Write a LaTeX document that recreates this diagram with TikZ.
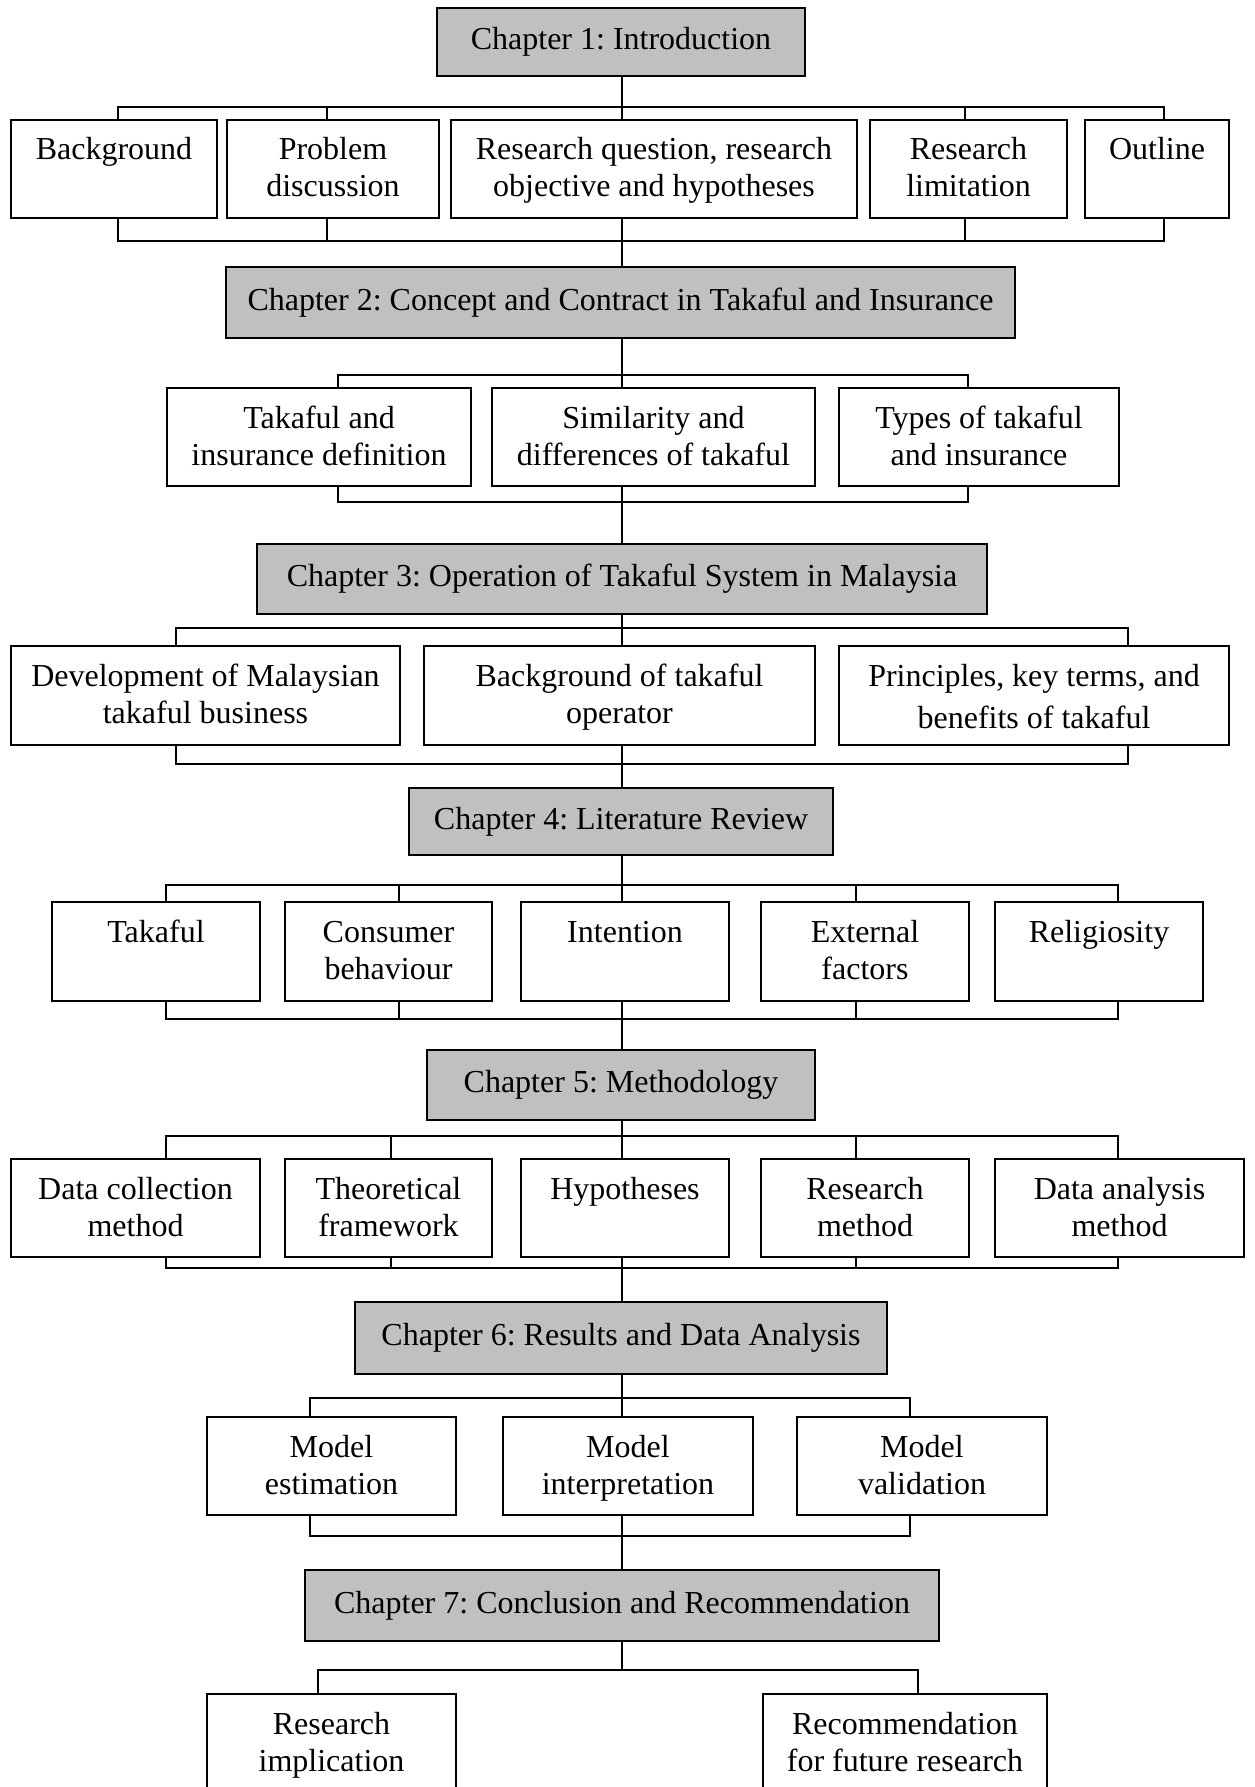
\documentclass[tikz,border=0pt]{standalone}
\usepackage{fontspec}
\setmainfont{Liberation Serif}
\frenchspacing
\definecolor{chapgray}{RGB}{192,192,192}
\newcommand{\mkbox}[6]{%
  \pgfmathsetmacro\bw{#4-#2}\pgfmathsetmacro\bh{#5-#3}%
  \node[cbx] (#1) at (#2,#3) {\parbox[b][\bh pt][t]{\bw pt}{\centering\rule{0pt}{40pt}#6}};}
\newcommand{\mkchap}[6]{%
  \pgfmathsetmacro\bw{#4-#2}\pgfmathsetmacro\bh{#5-#3}%
  \node[chap, minimum width=\bw pt, minimum height=\bh pt] (#1) at (#2,#3) {#6};}
\newcommand{\brtop}[4]{%
  \coordinate (bl) at (#2,#1); \coordinate (br) at (#3,#1);
  \draw[conn] (bl) -- (br);
  \foreach \tx/\nd in {#4}{\coordinate (kk) at (\tx,#1); \draw[conn] (kk) -- (kk |- \nd.north);}}
\newcommand{\brbot}[4]{%
  \coordinate (bl) at (#2,#1); \coordinate (br) at (#3,#1);
  \draw[conn] (bl) -- (br);
  \foreach \tx/\nd in {#4}{\coordinate (kk) at (\tx,#1); \draw[conn] (kk |- \nd.south) -- (kk);}}
\begin{document}
\begin{tikzpicture}[x=1pt,y=-1pt,
  cbx/.style={draw, line width=2pt, inner sep=0pt, anchor=north west, font=\fontsize{32}{37}\selectfont},
  chap/.style={draw, line width=2pt, fill=chapgray, inner sep=0pt, anchor=north west, align=center, font=\fontsize{32}{37}\selectfont},
  conn/.style={line width=1.8pt, line cap=rect}]
\useasboundingbox (0,0) rectangle (1254,1787);
\clip (0,0) rectangle (1254,1787);
\fill[white] (0,0) rectangle (1254,1787);
\coordinate (sp) at (622,0);

% chapters
\mkchap{ch1}{436}{7}{804}{75}{Chapter 1: Introduction}
\mkchap{ch2}{225}{266}{1014}{337}{Chapter 2: Concept and Contract in Takaful and Insurance}
\mkchap{ch3}{256}{543}{986}{613}{Chapter 3: Operation of Takaful System in Malaysia}
\mkchap{ch4}{408}{787}{832}{854}{Chapter 4: Literature Review}
\mkchap{ch5}{426}{1049}{814}{1119}{Chapter 5: Methodology}
\mkchap{ch6}{354}{1301}{886}{1373}{Chapter 6: Results and Data Analysis}
\mkchap{ch7}{304}{1569}{938}{1640}{Chapter 7: Conclusion and Recommendation}

% row 1
\mkbox{bg}{10}{119}{216}{217}{Background}
\mkbox{pd}{226}{119}{438}{217}{Problem\\discussion}
\mkbox{rq}{450}{119}{856}{217}{Research question, research\\objective and hypotheses}
\mkbox{rl}{869}{119}{1066}{217}{Research\\limitation}
\mkbox{ol}{1084}{119}{1228}{217}{Outline}
% row 2
\mkbox{td}{166}{387}{470}{485}{Takaful and\\insurance definition}
\mkbox{sd}{491}{387}{814}{485}{Similarity and\\differences of takaful}
\mkbox{tt}{838}{387}{1118}{485}{Types of takaful\\and insurance}
% row 3
\mkbox{dm}{10}{645}{399}{744}{Development of Malaysian\\takaful business}
\mkbox{bt}{423}{645}{814}{744}{Background of takaful\\operator}
\mkbox{pk}{838}{645}{1228}{744}{Principles, key terms, and\\[5pt]benefits of takaful}
% row 4
\mkbox{tk}{51}{901}{259}{1000}{Takaful}
\mkbox{cb}{284}{901}{491}{1000}{Consumer\\behaviour}
\mkbox{it}{520}{901}{728}{1000}{Intention}
\mkbox{ef}{760}{901}{968}{1000}{External\\factors}
\mkbox{rg}{994}{901}{1202}{1000}{Religiosity}
% row 5
\mkbox{dc}{10}{1158}{259}{1256}{Data collection\\method}
\mkbox{tf}{284}{1158}{491}{1256}{Theoretical\\framework}
\mkbox{hy}{520}{1158}{728}{1256}{Hypotheses}
\mkbox{rm}{760}{1158}{968}{1256}{Research\\method}
\mkbox{da}{994}{1158}{1243}{1256}{Data analysis\\method}
% row 6
\mkbox{me}{206}{1416}{455}{1514}{Model\\estimation}
\mkbox{mi}{502}{1416}{752}{1514}{Model\\interpretation}
\mkbox{mv}{796}{1416}{1046}{1514}{Model\\validation}
% row 7
\mkbox{ri}{206}{1693}{455}{1830}{Research\\implication}
\mkbox{rf}{762}{1693}{1046}{1830}{Recommendation\\for future research}

% connectors
\draw[conn] (sp |- ch1.south) -- (sp |- rq.north);
\brtop{107}{118}{1164}{118/bg,327/pd,622/rq,965/rl,1164/ol}
\brbot{241}{118}{1164}{118/bg,327/pd,622/rq,965/rl,1164/ol}
\draw[conn] (sp |- rq.south) -- (sp |- ch2.north);

\draw[conn] (sp |- ch2.south) -- (sp |- sd.north);
\brtop{375}{338}{968}{338/td,622/sd,968/tt}
\brbot{502}{338}{968}{338/td,622/sd,968/tt}
\draw[conn] (sp |- sd.south) -- (sp |- ch3.north);

\draw[conn] (sp |- ch3.south) -- (sp |- bt.north);
\brtop{628}{176}{1128}{176/dm,622/bt,1128/pk}
\brbot{764}{176}{1128}{176/dm,622/bt,1128/pk}
\draw[conn] (sp |- bt.south) -- (sp |- ch4.north);

\draw[conn] (sp |- ch4.south) -- (sp |- it.north);
\brtop{885}{166}{1118}{166/tk,399/cb,622/it,856/ef,1118/rg}
\brbot{1019}{166}{1118}{166/tk,399/cb,622/it,856/ef,1118/rg}
\draw[conn] (sp |- it.south) -- (sp |- ch5.north);

\draw[conn] (sp |- ch5.south) -- (sp |- hy.north);
\brtop{1136}{166}{1118}{166/dc,391/tf,622/hy,856/rm,1118/da}
\brbot{1268}{166}{1118}{166/dc,391/tf,622/hy,856/rm,1118/da}
\draw[conn] (sp |- hy.south) -- (sp |- ch6.north);

\draw[conn] (sp |- ch6.south) -- (sp |- mi.north);
\brtop{1398}{310}{910}{310/me,622/mi,910/mv}
\brbot{1536}{310}{910}{310/me,622/mi,910/mv}
\draw[conn] (sp |- mi.south) -- (sp |- ch7.north);

\draw[conn] (sp |- ch7.south) -- (sp |- 0,1670);
\brtop{1670}{318}{918}{318/ri,918/rf}
\end{tikzpicture}
\end{document}
